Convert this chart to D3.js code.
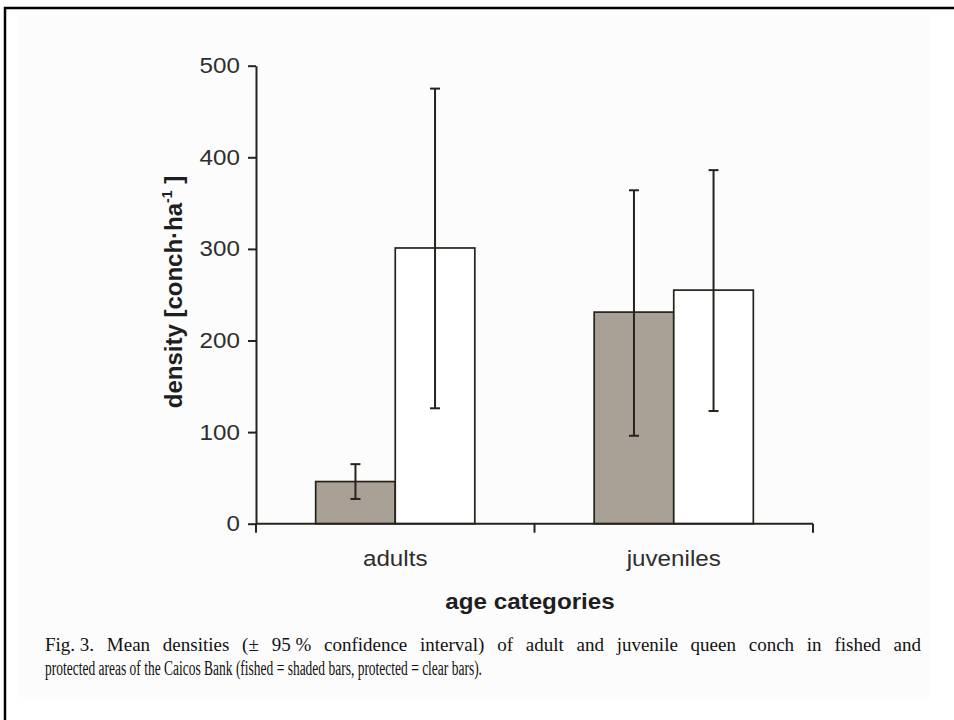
<!DOCTYPE html>
<html>
<head>
<meta charset="utf-8">
<script src="https://cdn.jsdelivr.net/npm/d3@7"></script>
<style>
  html, body { margin: 0; padding: 0; background: #ffffff; }
  svg { display: block; }
</style>
</head>
<body>
<svg id="chart" width="954" height="720"></svg>
<script>
// ---- data ----
const categories = ["adults", "juveniles"];
const seriesNames = ["fished", "protected"];
const fishedMean = [46, 231];
const fishedLow = [27, 96];
const fishedHigh = [65, 364];
const protectedMean = [301, 255];
const protectedLow = [126, 123];
const protectedHigh = [475, 386];
const yTicks = [0, 100, 200, 300, 400, 500];
const yTitle = "density [conch·ha";
const yTitleSup = "-1";
const xTitle = "age categories";
const captionLine1 = ["Fig. 3.", "Mean", "densities", "(±", "95 %", "confidence", "interval)", "of", "adult", "and", "juvenile", "queen", "conch", "in", "fished", "and"];
const captionLine2 = "protected areas of the Caicos Bank (fished = shaded bars, protected = clear bars).";

const rows = [];
categories.forEach((c, i) => {
  rows.push({cat: c, series: "fished", mean: fishedMean[i], lo: fishedLow[i], hi: fishedHigh[i]});
  rows.push({cat: c, series: "protected", mean: protectedMean[i], lo: protectedLow[i], hi: protectedHigh[i]});
});

const svg = d3.select("#chart");
const ink = "#26231c";
const stretch = 1.1; // horizontal stretch of the original figure's lettering

function widen(sel) {
  sel.each(function() {
    const w = this.getComputedTextLength();
    d3.select(this).attr("textLength", w * stretch).attr("lengthAdjust", "spacingAndGlyphs");
  });
}

// page frame
svg.append("rect").attr("x", 18).attr("y", 15).attr("width", 912).attr("height", 682).attr("fill", "#fcfcfc");
svg.append("path").attr("d", "M5,740 L5,8 L960,8").attr("fill", "none").attr("stroke", "#000").attr("stroke-width", 2.5);

// scales
const x = d3.scaleBand().domain(categories).range([256, 813]).paddingInner(0).paddingOuter(0);
const xs = d3.scaleBand().domain(seriesNames).range([0, x.bandwidth()]).paddingInner(0).paddingOuter(0.75);
const y = d3.scaleLinear().domain([0, 500]).range([523.7, 65.7]);
const fill = d3.scaleOrdinal().domain(seriesNames).range(["#a9a196", "#ffffff"]);

// bars
svg.append("g").selectAll("rect").data(rows).join("rect")
  .attr("x", d => x(d.cat) + xs(d.series))
  .attr("y", d => y(d.mean))
  .attr("width", xs.bandwidth())
  .attr("height", d => y(0) - y(d.mean))
  .attr("fill", d => fill(d.series))
  .attr("stroke", ink).attr("stroke-width", 1.7);

// error bars
const eg = svg.append("g").attr("stroke", ink).attr("stroke-width", 2);
rows.forEach(d => {
  const cx = x(d.cat) + xs(d.series) + xs.bandwidth() / 2;
  eg.append("line").attr("x1", cx).attr("x2", cx).attr("y1", y(d.lo)).attr("y2", y(d.hi));
  eg.append("line").attr("x1", cx - 5).attr("x2", cx + 5).attr("y1", y(d.lo)).attr("y2", y(d.lo));
  eg.append("line").attr("x1", cx - 5).attr("x2", cx + 5).attr("y1", y(d.hi)).attr("y2", y(d.hi));
});

// y axis
const yAxis = d3.axisLeft(y).tickValues(yTicks).tickSize(8).tickPadding(8).tickSizeOuter(0);
const gy = svg.append("g").attr("transform", "translate(256,0)").call(yAxis);
gy.select(".domain").attr("stroke", ink).attr("stroke-width", 2);
gy.selectAll(".tick line").attr("stroke", ink).attr("stroke-width", 2);
gy.selectAll(".tick text").attr("font-family", "Liberation Sans, Arial, sans-serif")
  .attr("font-size", 22).attr("fill", "#2e2e2e").call(widen);

// x axis: ticks at category boundaries
const bounds = [x.range()[0]].concat(categories.map(c => x(c) + x.bandwidth()));
const gx = svg.append("g");
gx.append("line").attr("x1", x.range()[0]).attr("x2", x.range()[1]).attr("y1", y(0)).attr("y2", y(0))
  .attr("stroke", ink).attr("stroke-width", 2);
gx.selectAll("line.tk").data(bounds).join("line").attr("class", "tk")
  .attr("x1", d => d).attr("x2", d => d).attr("y1", y(0)).attr("y2", y(0) + 9)
  .attr("stroke", ink).attr("stroke-width", 2);
gx.selectAll("text").data(categories).join("text")
  .attr("x", d => x(d) + x.bandwidth() / 2).attr("y", 566)
  .attr("text-anchor", "middle")
  .attr("font-family", "Liberation Sans, Arial, sans-serif").attr("font-size", 22).attr("fill", "#2e2e2e")
  .text(d => d).call(widen);

// axis titles
svg.append("text").attr("x", 530).attr("y", 609).attr("text-anchor", "middle")
  .attr("font-family", "Liberation Sans, Arial, sans-serif").attr("font-weight", "bold")
  .attr("font-size", 22).attr("fill", "#1e1e1e").text(xTitle).call(widen);

const yt = svg.append("text").attr("transform", "translate(182,292) rotate(-90)").attr("text-anchor", "middle")
  .attr("font-family", "Liberation Sans, Arial, sans-serif").attr("font-weight", "bold")
  .attr("font-size", 24).attr("fill", "#1e1e1e");
yt.append("tspan").text(yTitle);
yt.append("tspan").attr("font-size", 14).attr("dy", -10).text(yTitleSup);
yt.append("tspan").attr("dy", 10).text(" ]");

// caption
const cap = svg.append("g").attr("font-family", "Liberation Serif, Times New Roman, serif")
  .attr("font-size", 19).attr("fill", "#111");
const left = 45, right = 921;
const words = cap.selectAll("text.w").data(captionLine1).join("text").attr("class", "w")
  .attr("y", 651).text(d => d);
const widths = [];
words.each(function() { widths.push(this.getComputedTextLength()); });
const total = d3.sum(widths);
const gap = (right - left - total) / (captionLine1.length - 1);
let cx = left;
words.each(function(d, i) { d3.select(this).attr("x", cx); cx += widths[i] + gap; });
cap.append("text").attr("x", left).attr("y", 675).attr("font-size", 20)
  .attr("textLength", 437).attr("lengthAdjust", "spacingAndGlyphs").text(captionLine2);
</script>
</body>
</html>
